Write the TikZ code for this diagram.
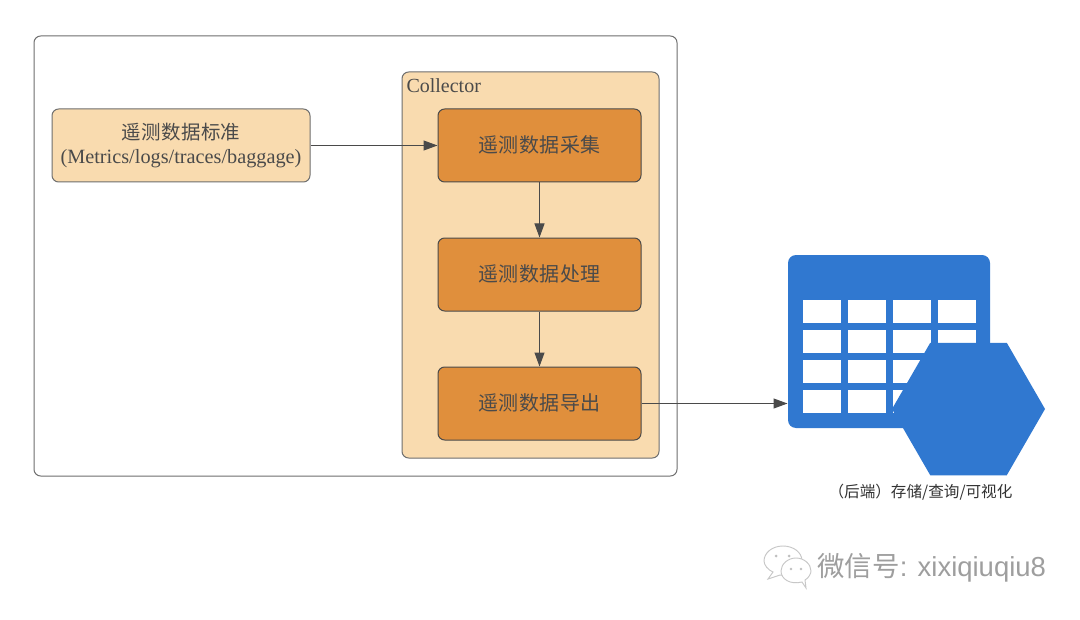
\documentclass[tikz,border=0pt]{standalone}
\usepackage{xcolor}
\usepackage{fontspec}
\setmainfont{Liberation Serif}
\newfontfamily\cjk{Noto Sans CJK SC}
\newfontfamily\wmfont{Liberation Sans}
\usepackage{tikz}
\usetikzlibrary{arrows.meta}
\usetikzlibrary{positioning}
\usetikzlibrary{shapes.geometric}
\definecolor{boxtext}{HTML}{4A4A4A}
\definecolor{lightbox}{HTML}{F9DBAF}
\definecolor{darkbox}{HTML}{E08F3C}
\definecolor{iconblue}{HTML}{3078D0}
\newcommand{\steptext}[1]{\raisebox{2.2pt}{\addfontfeatures{LetterSpace=2}#1}}
\begin{document}
\begin{tikzpicture}[x=0.75pt,y=-0.75pt,>={Triangle[length=10.5pt,width=7.5pt]},
                    line width=0.75pt,color=boxtext,text=boxtext]
 \tikzset{every node/.style={inner sep=0pt},
   panel/.style={draw=boxtext!80,rounded corners=5pt,minimum width=#1,anchor=north west},
   lightpanel/.style={panel=193.5pt,fill=lightbox,minimum height=54.75pt,align=center,font=\fontsize{15.2}{17.5}\selectfont},
   stepbox/.style={draw=boxtext,rounded corners=5pt,fill=darkbox,minimum width=152.25pt,minimum height=54.75pt,font=\cjk\fontsize{15}{18}\selectfont},
   cell/.style={fill=white,minimum width=28.5pt,minimum height=17.25pt,anchor=north west}}
  \useasboundingbox (0,0) rectangle (1080,620);
  \fill[white] (0,0) rectangle (1080,620);
  \node[panel=482.25pt,minimum height=330pt] (outer) at (33.5,35.5) {};
  \node[panel=192.75pt,minimum height=289.5pt,fill=lightbox] (collector) at (401.5,71.5) {};
  \node[anchor=north west,font=\fontsize{15}{18}\selectfont] (collectorlabel) at (406,78) {Collector};
  \node[lightpanel] (standard) at (51.5,108.5) {\raisebox{1pt}{\cjk\fontsize{14.6}{17.5}\selectfont\addfontfeatures{LetterSpace=2}遥测数据标准}\\\raisebox{1pt}{(Metrics/logs/traces/baggage)}};
  \node[stepbox,anchor=north west] (collect) at (437.5,108.5) {\steptext{遥测数据采集}};
  \node[stepbox,below=41.25pt of collect] (process) {\steptext{遥测数据处理}};
  \node[stepbox,below=41.25pt of process] (export) {\steptext{遥测数据导出}};
  % table icon with the hexagon on top
  \node[fill=iconblue,rounded corners=6pt,minimum width=151.5pt,minimum height=129.75pt,anchor=north west] (storage) at (787.5,254.5) {};
  \foreach \row in {299.5,329.5,359.5,389.5}
    \foreach \col in {802.5,847.5,892.5,937.5}
      \node[cell] (cell-\col-\row) at (\col,\row) {};
  \node[regular polygon,regular polygon sides=6,fill=iconblue,minimum size=114.75pt] (hexagon) at (968.5,409) {};
  \node[font=\cjk\fontsize{11.7}{14}\selectfont,text=black!80] (backend) at (920.5,492.5) {（后端）存储/查询/可视化};
  \path[->] (standard) edge (collect)
            (collect) edge (process)
            (process) edge (export)
            (export) edge (export -| storage.west);
  % watermark
  \begin{scope}[draw=black!22,fill=white,line width=0.7pt]
   \filldraw (773,572) -- (768,579) -- (780,575) .. controls (794,577) and (802,569) .. (802,561)
      .. controls (802,552) and (793,546) .. (783,546) .. controls (772,546) and (764,553) .. (764,561)
      .. controls (764,565) and (768,570) .. (773,572) -- cycle;
   \filldraw (802,582) -- (806,588) -- (805,580) .. controls (809,578) and (811,573) .. (811,571)
      .. controls (811,564) and (804,558) .. (796,558) .. controls (788,558) and (781,564) .. (781,571)
      .. controls (781,579) and (790,585) .. (802,582) -- cycle;
   \fill[black!25] (776,556) circle (1.5) (789,556) circle (1.5) (791,569) circle (1.3) (801,569) circle (1.3);
  \end{scope}
  \node[anchor=west,text=black!38,font=\fontsize{20.6}{24}\selectfont] (wechat) at (817,568) {{\cjk 微信号}{\wmfont : xixiqiuqiu8}};
\end{tikzpicture}
\end{document}
